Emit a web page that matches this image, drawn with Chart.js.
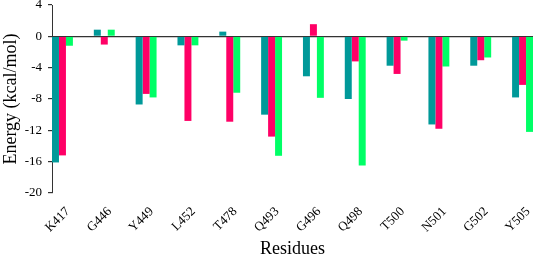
<!DOCTYPE html>
<html>
<head>
<meta charset="utf-8">
<script src="https://cdn.jsdelivr.net/npm/chart.js@4"></script>
<style>
  html, body { margin: 0; padding: 0; background: #fff; }
  #wrap { width: 533px; height: 256px; }
</style>
</head>
<body>
<div id="wrap"><canvas id="c" width="533" height="256"></canvas></div>
<script>
const residues = ['K417', 'G446', 'Y449', 'L452', 'T478', 'Q493', 'G496', 'Q498', 'T500', 'N501', 'G502', 'Y505'];
const seriesTeal  = [-16.1, 0.85, -8.7, -1.15, 0.6, -10.0, -5.1, -8.0, -3.75, -11.25, -3.75, -7.8];
const seriesPink  = [-15.2, -1.05, -7.35, -10.8, -10.9, -12.8, 1.55, -3.2, -4.8, -11.8, -3.05, -6.2];
const seriesGreen = [-1.2, 0.85, -7.8, -1.15, -7.2, -15.25, -7.85, -16.5, -0.55, -3.85, -2.7, -12.2];
const yTicks = [4, 0, -4, -8, -12, -16, -20];

const toPts = arr => arr.map((v, i) => ({ x: i, y: v }));
const font = 'Liberation Serif';

new Chart(document.getElementById('c'), {
  type: 'bar',
  data: {
    datasets: [
      { data: toPts(seriesTeal),  backgroundColor: '#009999' },
      { data: toPts(seriesPink),  backgroundColor: '#ff0066' },
      { data: toPts(seriesGreen), backgroundColor: '#00ff66' }
    ]
  },
  options: {
    responsive: false,
    animation: false,
    layout: { padding: { top: 5, right: 0, left: 0, bottom: 0 } },
    plugins: { legend: { display: false }, tooltip: { enabled: false } },
    datasets: { bar: { categoryPercentage: 0.5, barPercentage: 1.0, borderWidth: 0 } },
    scales: {
      x: {
        type: 'linear',
        offset: false,
        min: -0.25,
        max: residues.length - 0.75,
        afterBuildTicks: s => { s.ticks = residues.map((_, i) => ({ value: i })); },
        afterFit: s => { s.height = 63; s.paddingLeft = 0; s.paddingRight = 0; },
        grid: { display: false, drawTicks: false, offset: false },
        border: { display: false },
        ticks: {
          autoSkip: false,
          minRotation: 45,
          maxRotation: 45,
          padding: 11,
          color: '#000',
          showLabelBackdrop: true,
          backdropColor: 'rgba(0,0,0,0)',
          backdropPadding: 0,
          font: { family: font, size: 13 },
          callback: v => residues[v] ?? ''
        },
        title: {
          display: true,
          text: 'Residues',
          color: '#000',
          font: { family: font, size: 18 },
          padding: { top: 0, bottom: -4 }
        }
      },
      y: {
        min: -20,
        max: 4,
        z: 1,
        afterBuildTicks: s => { s.ticks = yTicks.map(v => ({ value: v })); },
        afterFit: s => { s.width = 52; s.paddingTop = 0; s.paddingBottom = 0; },
        grid: {
          color: ctx => (ctx.tick && ctx.tick.value === 0) ? '#333' : 'rgba(0,0,0,0)',
          tickColor: '#333',
          tickLength: 4,
          lineWidth: 1.2
        },
        border: { display: true, color: '#333', width: 1 },
        ticks: {
          padding: 6,
          color: '#000',
          font: { family: font, size: 13 }
        },
        title: {
          display: true,
          text: 'Energy (kcal/mol)',
          color: '#000',
          font: { family: font, size: 18 },
          padding: { top: 0, bottom: 0 }
        }
      }
    }
  }
});
</script>
</body>
</html>
